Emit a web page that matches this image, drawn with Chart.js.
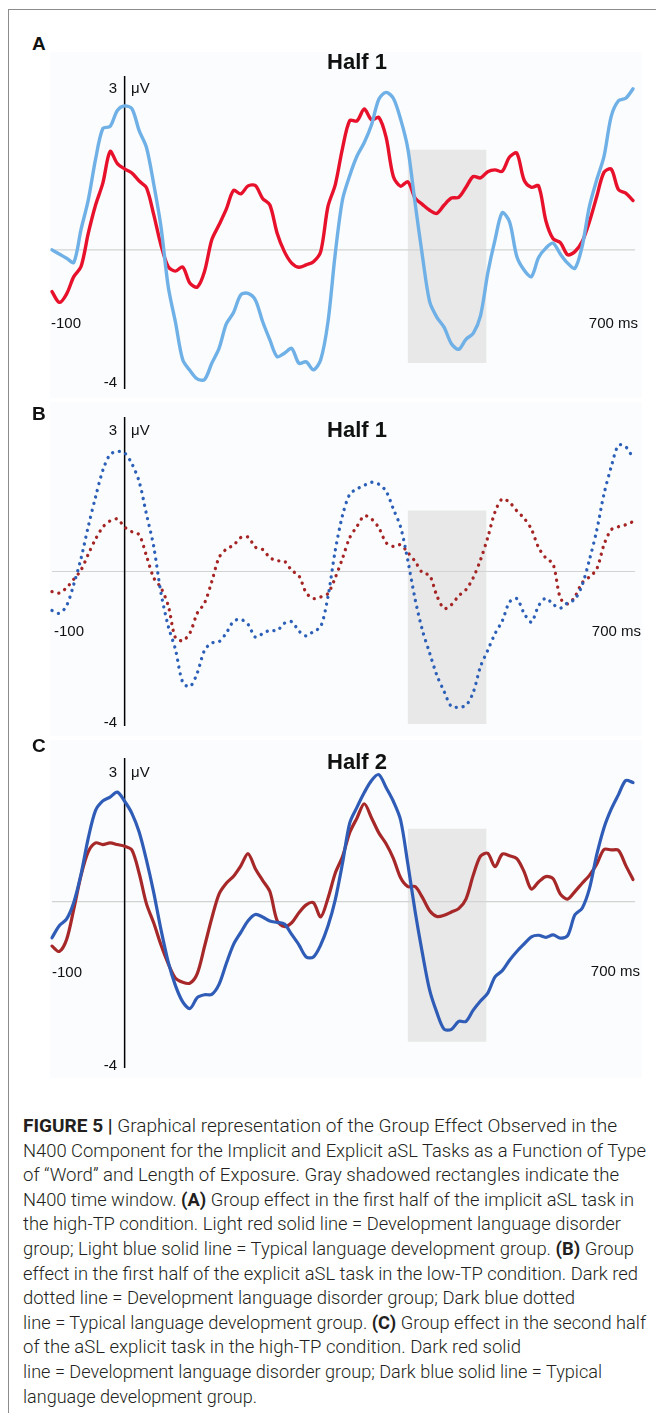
<!DOCTYPE html>
<html>
<head>
<meta charset="utf-8">
<script src="https://cdn.jsdelivr.net/npm/chart.js@4.4.1/dist/chart.umd.min.js"></script>
<style>
  html, body { margin: 0; padding: 0; }
  body { width: 656px; height: 1413px; position: relative; overflow: hidden; background: #fff;
         font-family: "Liberation Sans", Arial, sans-serif; color: #111; }
  .frame { position: absolute; left: 8px; top: 9px; width: 720px; height: 1500px; border: 1px solid #8c8c8c; }
  .plotbg { position: absolute; left: 50px; width: 592px; background: #fafcfd; }
  canvas { position: absolute; left: 0; z-index: 1; }
  .t { position: absolute; z-index: 2; white-space: nowrap; line-height: 1; }
  .lbl { font-size: 15px; }
  .plab { font-size: 19px; font-weight: bold; }
  .ttl { font-size: 22px; font-weight: bold; transform: translateX(-50%); }
  .cap { position: absolute; left: 23px; top: 1114px; z-index: 2; font-family: Roboto, "Liberation Sans", sans-serif;
         font-weight: 300; font-size: 17.5px; line-height: 24.6px; color: #231f20; }
  .cap b { font-weight: 700; }
  .cap div { white-space: nowrap; height: 24.6px; }
  .cap span.l { display: inline-block; transform-origin: 0 50%; }
</style>
</head>
<body>
<div class="frame"></div>
<div class="plotbg" style="top:52px;height:346px"></div>
<div class="plotbg" style="top:402px;height:334px"></div>
<div class="plotbg" style="top:740px;height:338px"></div>

<canvas id="chartA" width="656" height="353" style="top:56px"></canvas>
<canvas id="chartB" width="656" height="349" style="top:397px"></canvas>
<canvas id="chartC" width="656" height="350" style="top:738px"></canvas>

<!-- Panel A texts -->
<div class="t plab" style="left:32px;top:34px">A</div>
<div class="t ttl" style="left:357px;top:51px">Half 1</div>
<div class="t lbl" style="right:539px;top:80px">3</div>
<div class="t lbl" style="left:131px;top:80px">μV</div>
<div class="t lbl" style="right:539px;top:374px">-4</div>
<div class="t lbl" style="left:51px;top:315px">-100</div>
<div class="t lbl" style="right:18px;top:315px">700 ms</div>

<!-- Panel B texts -->
<div class="t plab" style="left:32px;top:404px">B</div>
<div class="t ttl" style="left:357px;top:419px">Half 1</div>
<div class="t lbl" style="right:539px;top:422px">3</div>
<div class="t lbl" style="left:131px;top:422px">μV</div>
<div class="t lbl" style="right:539px;top:714px">-4</div>
<div class="t lbl" style="left:54px;top:623px">-100</div>
<div class="t lbl" style="right:15px;top:623px">700 ms</div>

<!-- Panel C texts -->
<div class="t plab" style="left:32px;top:736px">C</div>
<div class="t ttl" style="left:357px;top:751px">Half 2</div>
<div class="t lbl" style="right:539px;top:764px">3</div>
<div class="t lbl" style="left:131px;top:764px">μV</div>
<div class="t lbl" style="right:539px;top:1057px">-4</div>
<div class="t lbl" style="left:52px;top:964px">-100</div>
<div class="t lbl" style="right:16px;top:963px">700 ms</div>

<div class="cap" id="caption">
  <div><span class="l"><b>FIGURE 5</b> <b>|</b> Graphical representation of the Group Effect Observed in the</span></div>
  <div><span class="l">N400 Component for the Implicit and Explicit aSL Tasks as a Function of Type</span></div>
  <div><span class="l">of “Word” and Length of Exposure. Gray shadowed rectangles indicate the</span></div>
  <div><span class="l">N400 time window. <b>(A)</b> Group effect in the first half of the implicit aSL task in</span></div>
  <div><span class="l">the high-TP condition. Light red solid line = Development language disorder</span></div>
  <div><span class="l">group; Light blue solid line = Typical language development group. <b>(B)</b> Group</span></div>
  <div><span class="l">effect in the first half of the explicit aSL task in the low-TP condition. Dark red</span></div>
  <div><span class="l">dotted line = Development language disorder group; Dark blue dotted</span></div>
  <div><span class="l">line = Typical language development group. <b>(C)</b> Group effect in the second half</span></div>
  <div><span class="l">of the aSL explicit task in the high-TP condition. Dark red solid</span></div>
  <div><span class="l">line = Development language disorder group; Dark blue solid line = Typical</span></div>
  <div><span class="l">language development group.</span></div>
</div>

<script>
// ---- Time axis (ms) ----
const timesMs = [-100,-90,-80,-70,-60,-50,-40,-30,-20,-10,
  0,10,20,30,40,50,60,70,80,90,
  100,110,120,130,140,150,160,170,180,190,
  200,210,220,230,240,250,260,270,280,290,
  300,310,320,330,340,350,360,370,380,390,
  400,410,420,430,440,450,460,470,480,490,
  500,510,520,530,540,550,560,570,580,590,
  600,610,620,630,640,650,660,670,680,690,
  700];

// N400 time window (ms)
const n400Window = [390, 498];

// ---- Panel A: Half 1, implicit aSL, high-TP (µV) ----
const tldImplicitHalf1 = [0.00,-0.12,-0.24,-0.36,0.59,1.44,2.61,3.49,3.55,4.01,
  4.14,4.06,3.43,2.95,1.90,0.67,-1.05,-2.08,-3.16,-3.47,
  -3.71,-3.73,-3.26,-2.83,-2.13,-1.80,-1.29,-1.25,-1.44,-2.06,
  -2.59,-3.07,-2.97,-2.83,-3.26,-3.22,-3.45,-3.16,-2.07,-0.11,
  1.44,2.14,2.70,3.09,3.60,4.33,4.53,4.36,3.76,2.91,
  1.34,-0.17,-1.49,-1.94,-2.23,-2.70,-2.86,-2.57,-2.40,-1.90,
  -0.67,0.29,1.07,0.81,-0.19,-0.58,-0.77,-0.22,0.05,0.19,
  -0.12,-0.38,-0.53,0.10,1.25,2.01,2.68,3.84,4.29,4.36,
  4.63];
const dldImplicitHalf1 = [-1.20,-1.51,-1.27,-0.77,-0.48,0.48,1.29,1.92,2.83,2.48,
  2.33,2.21,1.98,1.79,1.02,0.14,-0.48,-0.61,-0.49,-0.96,
  -1.07,-0.62,0.29,0.72,1.17,1.71,1.61,1.84,1.85,1.48,
  1.29,0.48,-0.05,-0.38,-0.50,-0.43,-0.34,-0.05,1.25,1.87,
  2.92,3.72,3.71,4.05,3.74,3.81,3.24,2.11,1.83,1.96,
  1.49,1.31,1.14,1.05,1.29,1.49,1.51,1.80,2.11,2.07,
  2.25,2.30,2.26,2.67,2.78,2.01,1.80,1.84,0.84,0.32,
  0.21,-0.14,-0.05,0.24,0.81,1.53,2.23,2.32,1.73,1.63,
  1.42];

// ---- Panel B: Half 1, explicit aSL, low-TP (µV) ----
const tldExplicitHalf1 = [-1.01,-1.08,-0.89,-0.33,0.34,1.17,1.93,2.62,3.03,3.11,
  3.07,2.79,2.33,1.49,0.65,-0.55,-1.41,-2.02,-2.87,-2.98,
  -2.63,-2.04,-1.85,-1.82,-1.59,-1.29,-1.24,-1.37,-1.70,-1.61,
  -1.52,-1.53,-1.34,-1.30,-1.54,-1.67,-1.55,-1.43,-0.65,0.54,
  1.45,2.00,2.14,2.23,2.31,2.26,2.08,1.62,1.15,0.28,
  -0.72,-1.52,-2.11,-2.69,-3.11,-3.50,-3.51,-3.47,-3.13,-2.46,
  -2.04,-1.61,-1.28,-0.79,-0.70,-1.08,-1.31,-0.89,-0.69,-0.85,
  -0.95,-0.81,-0.72,-0.35,0.30,1.06,2.00,2.71,3.27,3.23,
  2.94];
const dldExplicitHalf1 = [-0.52,-0.56,-0.42,-0.20,0.04,0.45,0.84,1.15,1.31,1.36,
  1.15,1.03,0.95,0.41,-0.16,-0.42,-0.88,-1.72,-1.79,-1.59,
  -1.08,-0.82,-0.26,0.36,0.58,0.68,0.88,0.89,0.63,0.57,
  0.36,0.28,0.27,0.03,-0.11,-0.55,-0.70,-0.66,-0.57,-0.16,
  0.34,0.88,1.17,1.44,1.36,1.13,0.75,0.65,0.69,0.49,
  0.26,-0.03,-0.10,-0.63,-0.96,-0.86,-0.63,-0.47,-0.16,0.30,
  0.88,1.54,1.88,1.79,1.57,1.38,1.10,0.62,0.35,0.19,
  -0.69,-0.84,-0.65,-0.29,-0.14,0.06,0.69,1.08,1.16,1.21,
  1.29];

// ---- Panel C: Half 2, explicit aSL, high-TP (µV) ----
const tldExplicitHalf2 = [-0.87,-0.58,-0.42,-0.02,0.66,1.53,2.19,2.42,2.51,2.63,
  2.41,2.12,1.67,1.00,0.22,-0.67,-1.45,-2.02,-2.41,-2.57,
  -2.31,-2.24,-2.23,-1.99,-1.49,-1.03,-0.74,-0.46,-0.31,-0.37,
  -0.47,-0.50,-0.54,-0.79,-1.04,-1.33,-1.33,-1.04,-0.59,0.04,
  0.92,1.89,2.27,2.62,2.91,3.05,2.74,2.41,1.96,0.90,
  -0.24,-1.24,-2.13,-2.67,-3.07,-3.07,-2.88,-2.88,-2.61,-2.39,
  -2.20,-1.81,-1.66,-1.41,-1.20,-1.02,-0.85,-0.81,-0.86,-0.80,
  -0.88,-0.82,-0.32,-0.16,0.31,1.12,1.77,2.22,2.57,2.91,
  2.86];
const dldExplicitHalf2 = [-1.07,-1.20,-0.92,-0.18,0.63,1.20,1.41,1.37,1.41,1.37,
  1.33,1.24,0.68,-0.05,-0.51,-1.04,-1.49,-1.84,-1.94,-1.96,
  -1.73,-1.08,-0.40,0.18,0.44,0.61,0.86,1.15,0.79,0.51,
  0.24,-0.46,-0.60,-0.51,-0.27,-0.08,-0.03,-0.37,0.08,0.68,
  1.08,1.66,2.01,2.35,2.01,1.65,1.39,1.04,0.57,0.36,
  0.36,0.10,-0.22,-0.36,-0.33,-0.25,-0.17,0.06,0.63,1.09,
  1.16,0.84,1.14,1.10,1.03,0.72,0.30,0.47,0.60,0.55,
  0.18,0.06,0.24,0.44,0.63,0.90,1.25,1.24,1.23,0.87,
  0.53];

function toPoints(values) { return timesMs.map((t, i) => ({ x: t, y: values[i] })); }

const panelDecor = {
  id: 'panelDecor',
  beforeDatasetsDraw(chart, args, opts) {
    const { ctx, chartArea: a, scales: { x, y } } = chart;
    ctx.save();
    const x0 = x.getPixelForValue(opts.window[0]);
    const x1 = x.getPixelForValue(opts.window[1]);
    const yTop = y.getPixelForValue(opts.band[1]);
    const yBot = y.getPixelForValue(opts.band[0]);
    ctx.fillStyle = '#e8e8e8';
    ctx.fillRect(x0, yTop, x1 - x0, yBot - yTop);
    const yz = y.getPixelForValue(0);
    ctx.strokeStyle = '#d3d3d3';
    ctx.lineWidth = 1.2;
    ctx.beginPath(); ctx.moveTo(a.left, yz); ctx.lineTo(a.right + 2, yz); ctx.stroke();
    const xz = x.getPixelForValue(0);
    ctx.strokeStyle = '#000';
    ctx.lineWidth = 1.5;
    ctx.beginPath(); ctx.moveTo(xz, a.top); ctx.lineTo(xz, a.bottom); ctx.stroke();
    ctx.restore();
  }
};

function makePanel(canvasId, canvasTop, areaTop, areaBottom, yMin, yMax, band, datasets) {
  const cv = document.getElementById(canvasId);
  const h = cv.height;
  return new Chart(cv, {
    type: 'line',
    data: { datasets },
    plugins: [panelDecor],
    options: {
      responsive: false,
      animation: false,
      devicePixelRatio: 1,
      layout: { padding: { left: 52, right: 23, top: areaTop - canvasTop, bottom: canvasTop + h - areaBottom } },
      scales: {
        x: { type: 'linear', min: -100, max: 700, display: false },
        y: { type: 'linear', min: yMin, max: yMax, display: false }
      },
      elements: { point: { radius: 0, hoverRadius: 0 }, line: { tension: 0.3, borderJoinStyle: 'round' } },
      plugins: {
        legend: { display: false },
        tooltip: { enabled: false },
        panelDecor: { window: n400Window, band }
      }
    }
  });
}

function solid(label, values, color, width) {
  return { label, data: toPoints(values), borderColor: color, borderWidth: width, fill: false, clip: false,
           borderCapStyle: 'round' };
}
function dotted(label, values, color) {
  return { label, data: toPoints(values), borderColor: color, borderWidth: 3.3, fill: false, clip: false,
           borderCapStyle: 'round', borderDash: [0.1, 6.8] };
}

makePanel('chartA', 56, 76, 389, -4, 5, [-3.25, 2.88], [
  solid('Typical language development', tldImplicitHalf1, '#6fb0e6', 3.4),
  solid('Developmental language disorder', dldImplicitHalf1, '#e8112b', 3.4)
]);
makePanel('chartB', 397, 417, 726, -4, 4, [-3.95, 1.58], [
  dotted('Typical language development', tldExplicitHalf1, '#2c5fb8'),
  dotted('Developmental language disorder', dldExplicitHalf1, '#a52424')
]);
makePanel('chartC', 738, 758, 1068, -4, 3.45, [-3.37, 1.75], [
  solid('Typical language development', tldExplicitHalf2, '#2f5cb6', 3.2),
  solid('Developmental language disorder', dldExplicitHalf2, '#a62829', 3.2)
]);

// Fit caption lines to the widths seen in the figure
const capRight = [617, 646, 619, 634, 621, 634, 638, 575, 646, 521, 602, 257];
document.querySelectorAll('#caption span.l').forEach((s, i) => {
  const w = s.getBoundingClientRect().width;
  const target = capRight[i] - 23;
  if (w > 0) s.style.transform = 'scaleX(' + (target / w).toFixed(4) + ')';
});
</script>
</body>
</html>
